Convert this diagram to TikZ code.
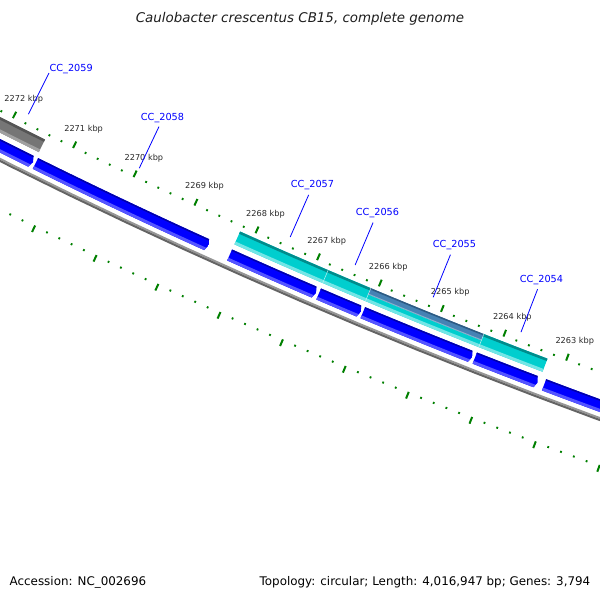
\documentclass[tikz,border=0pt]{standalone}
\usepackage{fontspec}
\newfontfamily\lab{DejaVu Sans}[ItalicFont={DejaVu Sans Oblique}]
\definecolor{tickgreen}{RGB}{0,128,0}
\definecolor{lblblue}{RGB}{0,0,255}
\definecolor{kgray}{RGB}{40,40,40}
\definecolor{bluemain}{RGB}{0,0,255}
\definecolor{bluedark}{RGB}{0,0,170}
\definecolor{bluelight}{RGB}{85,85,255}
\definecolor{cyanmain}{RGB}{0,206,206}
\definecolor{cyandark}{RGB}{0,140,140}
\definecolor{cyanlight}{RGB}{115,230,230}
\definecolor{graymain}{RGB}{118,118,118}
\definecolor{graydark}{RGB}{85,85,85}
\definecolor{graylight}{RGB}{160,160,160}
\definecolor{steelmain}{RGB}{70,130,180}
\definecolor{steeldark}{RGB}{45,90,130}
\definecolor{steellight}{RGB}{140,175,205}
\definecolor{bbtop}{RGB}{150,150,150}
\definecolor{bbbot}{RGB}{100,100,100}
\ExplSyntaxOn
\cs_new:Npn \cgx #1#2 { \fp_eval:n { 2556.7 + (#2) * cosd ( 114 + 0.68 * ( (#1) - 2268 ) ) } }
\cs_new:Npn \cgy #1#2 { \fp_eval:n { -4935.2 + (#2) * sind ( 114 + 0.68 * ( (#1) - 2268 ) ) } }
\ExplSyntaxOff
\def\upl{0.0625,0.125,0.1875,0.25,0.3125,0.375,0.4375,0.5,0.5625,0.625,0.6875,0.75,0.8125,0.875,0.9375,1}
\def\dnl{1,0.9375,0.875,0.8125,0.75,0.6875,0.625,0.5625,0.5,0.4375,0.375,0.3125,0.25,0.1875,0.125,0.0625,0}
% filled annular band: colour, k1, k2, r1, r2
\newcommand\bandfill[5]{%
 \fill[#1] (\cgx{#2}{#4},\cgy{#2}{#4})
  \foreach \q in \upl {-- (\cgx{(#2)+((#3)-(#2))*\q}{#4},\cgy{(#2)+((#3)-(#2))*\q}{#4})}
  \foreach \q in \dnl {-- (\cgx{(#2)+((#3)-(#2))*\q}{#5},\cgy{(#2)+((#3)-(#2))*\q}{#5})}
  -- cycle;}
% clip for a reverse-strand arrow: start k, tip k
\newcommand\revclip[2]{%
 \clip (\cgx{#1}{5682},\cgy{#1}{5682})
  \foreach \q in \upl {-- (\cgx{(#1)+((#2)+0.035-(#1))*\q}{5682},\cgy{(#1)+((#2)+0.035-(#1))*\q}{5682})}
  -- (\cgx{#2}{5688},\cgy{#2}{5688})
  \foreach \q in \dnl {-- (\cgx{(#1)+((#2)+0.035-(#1))*\q}{5694},\cgy{(#1)+((#2)+0.035-(#1))*\q}{5694})}
  -- cycle;}
\newcommand\revgene[2]{%
 \begin{scope}
  \revclip{#1}{#2}
  \bandfill{bluemain}{#1}{#2}{5681}{5695}
  \bandfill{bluedark}{#1}{#2}{5681}{5683.5}
  \bandfill{bluelight}{#1}{#2}{5691}{5695}
 \end{scope}}
\newcommand\fwdgene[5]{%
  \bandfill{#4}{#1}{#2}{5662.3}{5676.3}
  \bandfill{#3}{#1}{#2}{5662.3}{5664.8}
  \bandfill{#5}{#1}{#2}{5673.3}{5676.3}}
\tikzset{
 tk/.style={draw=tickgreen, line width=2pt},
 tkdot/.style={draw=tickgreen, line width=1.8pt},
 glabel/.style={font=\lab\fontsize{9.7}{11}\selectfont, text=lblblue, anchor=base, inner sep=0pt},
 klabel/.style={font=\lab\fontsize{8.2}{10}\selectfont, text=kgray, anchor=base, inner sep=0pt, yshift=-3pt},
 glink/.style={draw=lblblue, line width=0.8pt},
 foot/.style={font=\lab\fontsize{11.9}{14}\selectfont, inner sep=0pt, text=black},
}
\begin{document}
\begin{tikzpicture}[x=1pt,y=-1pt]
\useasboundingbox (0,0) rectangle (600,600);
\fill[white] (0,0) rectangle (600,600);
\begin{scope}
\clip (0,0) rectangle (600,600);
% backbone
\bandfill{bbtop}{2274.5}{2259.5}{5698.7}{5700.6}
\bandfill{bbbot}{2274.5}{2259.5}{5700.6}{5702.6}
% ticks
\foreach \j in {2261,...,2273}{
  \draw[tk] (\cgx{\j}{5650.3},\cgy{\j}{5650.3}) -- (\cgx{\j}{5657.5},\cgy{\j}{5657.5});
  \draw[tk] (\cgx{\j}{5743.8},\cgy{\j}{5743.8}) -- (\cgx{\j}{5751},\cgy{\j}{5751});
  \foreach \m in {1,2,3,4}{
    \draw[tkdot] (\cgx{\j+0.2*\m}{5655.5},\cgy{\j+0.2*\m}{5655.5}) -- (\cgx{\j+0.2*\m}{5657.5},\cgy{\j+0.2*\m}{5657.5});
    \draw[tkdot] (\cgx{\j+0.2*\m}{5743.8},\cgy{\j+0.2*\m}{5743.8}) -- (\cgx{\j+0.2*\m}{5745.8},\cgy{\j+0.2*\m}{5745.8});
  }}
% forward-track features
\fwdgene{2274.5}{2271.43}{graydark}{graymain}{graylight}
\fwdgene{2268.22}{2266.79}{cyandark}{cyanmain}{cyanlight}
\fwdgene{2266.79}{2266.10}{cyandark}{cyanmain}{cyanlight}
\bandfill{steelmain}{2266.10}{2264.285}{5662.3}{5669.3}
\bandfill{steeldark}{2266.10}{2264.285}{5662.3}{5663.8}
\bandfill{steellight}{2266.10}{2264.285}{5668.2}{5669.3}
\bandfill{cyanmain}{2266.10}{2264.285}{5669.3}{5676.3}
\bandfill{cyanlight}{2266.10}{2264.285}{5673.3}{5676.3}
\fwdgene{2264.285}{2263.27}{cyandark}{cyanmain}{cyanlight}
\foreach \b in {2266.79,2266.10,2264.285}
  \draw[white, opacity=0.6, line width=0.6pt] (\cgx{\b}{5662.3},\cgy{\b}{5662.3}) -- (\cgx{\b}{5676.3},\cgy{\b}{5676.3});
% reverse-track genes
\revgene{2274.5}{2271.44}
\revgene{2271.40}{2268.56}
\revgene{2268.22}{2266.82}
\revgene{2266.78}{2266.10}
\revgene{2266.07}{2264.32}
\revgene{2264.28}{2263.28}
\revgene{2263.18}{2261.0}
% kbp labels
\foreach \j in {2263,...,2272}
  \node[klabel] (k\j) at (\cgx{\j-0.015}{5635.5},\cgy{\j-0.015}{5635.5}) {\j\ kbp};
\end{scope}
% gene labels and links
\node[glabel] (l2059) at (71.2,71.2) {CC\_2059};
\node[glabel] (l2058) at (162.5,120.2) {CC\_2058};
\node[glabel] (l2057) at (312.5,187.5) {CC\_2057};
\node[glabel] (l2056) at (377.5,215.2) {CC\_2056};
\node[glabel] (l2055) at (454.5,247.5) {CC\_2055};
\node[glabel] (l2054) at (541.5,282.8) {CC\_2054};
\foreach \n/\k in {2059/2271.82,2058/2269.98,2057/2267.505,2056/2266.45,2055/2265.19,2054/2263.78}{
  \coordinate (s\n) at (\cgx{\k}{5601},\cgy{\k}{5601});
  \coordinate (e\n) at (\cgx{\k}{5647},\cgy{\k}{5647});
  \draw[glink] (s\n) -- (e\n);
}
% title and footer
\node[font=\lab\fontsize{13.4}{16}\selectfont\itshape, anchor=base, inner sep=0pt, text={rgb,255:red,30;green,30;blue,30}] (title) at (300,22.7) {Caulobacter crescentus CB15, complete genome};
\node[foot, anchor=base west] (acc) at (9.5,585.4) {Accession: NC\_002696};
\node[foot, anchor=base east] (topo) at (590.5,585.4) {Topology: circular; Length: 4,016,947 bp; Genes: 3,794};
\end{tikzpicture}
\end{document}
